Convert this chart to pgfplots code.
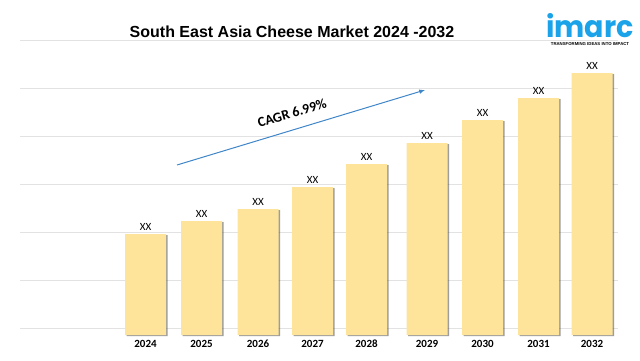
\documentclass[border=0pt]{standalone}
\usepackage{fontspec}
\setmainfont{Carlito}
\newfontfamily\titlefont{Liberation Sans}
\newfontfamily\logofont{Poppins}
\usepackage{pgfplots}
\pgfplotsset{compat=1.18}
\usetikzlibrary{shadows}
\definecolor{barcol}{HTML}{FEE49A}
\definecolor{arrowcol}{HTML}{3F86C8}
\definecolor{logocol}{HTML}{1AA3E8}
\definecolor{gridcol}{HTML}{E2E2E2}
\begin{document}
\begin{tikzpicture}
\begin{axis}[at={(0pt,0pt)}, anchor=south west, scale only axis,
  width=640pt, height=360pt,
  xmin=0, xmax=640, ymin=-25, ymax=335,
  axis x line=middle, axis y line=none,
  x axis line style={draw=none},
  xtick={145.5,201.5,258,312.5,366.5,427,482.5,538.5,592},
  xticklabels={2024,2025,2026,2027,2028,2029,2030,2031,2032},
  major tick length=0pt,
  x tick label style={font=\fontsize{11}{13}\selectfont\bfseries, text height=7.2pt, text depth=0pt, yshift=-2pt},
  ybar, bar width=41pt,
  nodes near coords={XX},
  nodes near coords style={font=\fontsize{11}{13}\selectfont, text=black},
  clip=false, enlargelimits=false,
]
\foreach \g in {295,247,199,151,103,55,7}{
  \edef\tmp{\noexpand\draw[gridcol, line width=0.8pt] (axis cs:20,\g) -- (axis cs:618,\g);}
  \tmp
}
\addplot[fill=barcol, draw=none,
  drop shadow={shadow xshift=1.5pt, shadow yshift=-1.2pt, opacity=0.55, fill=black!70}]
  coordinates {(145.5,101) (201.5,114) (258,126) (312.5,148) (366.5,171) (427,192) (482.5,215) (538.5,237) (592,262)};
\draw[arrowcol, line width=1pt, -latex] (axis cs:177,170) -- (axis cs:425,245);
\node[rotate=16.8, font=\fontsize{14}{16}\selectfont\bfseries] at (axis cs:292,222) {CAGR 6.99\%};
\node[font=\titlefont\fontsize{16}{18}\selectfont\bfseries] at (axis cs:292,303) {South East Asia Cheese Market 2024 -2032};
\node[font=\logofont\fontsize{30}{32}\selectfont\bfseries, text=logocol, xscale=0.95, anchor=base, inner sep=0pt] at (axis cs:590,298) {imarc};
\node[font=\titlefont\fontsize{4.3}{5}\selectfont\bfseries, anchor=center, inner sep=0pt] at (axis cs:590,291) {TRANSFORMING IDEAS INTO IMPACT};
\end{axis}
\pgfresetboundingbox
\useasboundingbox (0pt,0pt) rectangle (640pt,360pt);
\end{tikzpicture}
\end{document}
